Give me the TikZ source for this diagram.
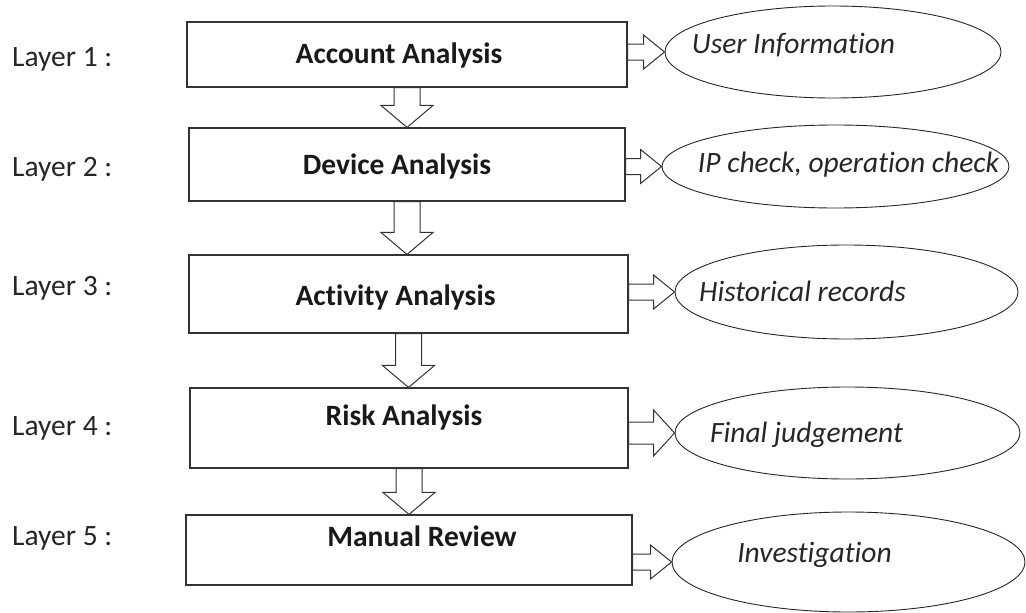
\documentclass[tikz,border=0pt]{standalone}
\usepackage{fontspec}
\setmainfont{Carlito}[Ligatures=NoCommon]
\usetikzlibrary{shapes.geometric, calc}

\begin{document}
\begin{tikzpicture}[
    x=1pt, y=-1pt,
    layer/.style={anchor=base west, inner sep=0pt, text=black!85, font=\fontsize{29.5}{34}\selectfont},
    stage/.style={rectangle, draw=black!80, line width=1.1pt, inner sep=0pt, text depth=8pt, text=black!90, font=\bfseries\fontsize{29.5}{34}\selectfont},
    text left/.style={execute at end node={\hspace*{#1}}},
    text right/.style={execute at begin node={\hspace*{#1}}},
    note/.style={ellipse, draw=black!85, line width=0.9pt, inner sep=0pt},
    notetext/.style={anchor=base, inner sep=0pt, text=black!85, font=\itshape\fontsize{29.5}{34}\selectfont},
    shaft half/.store in=\shafthalf,
    head half/.store in=\headhalf,
    head len/.store in=\headlen,
    shaft half=13pt, head half=26pt, head len=22pt,
    block/.style={draw=black!80, line width=1pt, fill=white,
      to path={
        ($(\tikztostart)!\shafthalf!90:(\tikztotarget)$)
        -- ($(\tikztotarget)!\headlen!(\tikztostart)!\shafthalf!90:(\tikztotarget)$)
        -- ($(\tikztotarget)!\headlen!(\tikztostart)!\headhalf!90:(\tikztotarget)$)
        -- (\tikztotarget)
        -- ($(\tikztotarget)!\headlen!(\tikztostart)!\headhalf!-90:(\tikztotarget)$)
        -- ($(\tikztotarget)!\headlen!(\tikztostart)!\shafthalf!-90:(\tikztotarget)$)
        -- ($(\tikztostart)!\shafthalf!-90:(\tikztotarget)$)
        -- cycle}},
    side/.style={block, shaft half=8pt, head half=17pt, head len=21pt}
]
\useasboundingbox (0,0) rectangle (1026,613);

% Layer labels
\node[layer] (l1) at (12,66) {Layer 1 :};
\node[layer] (l2) at (12,176) {Layer 2 :};
\node[layer] (l3) at (12,295) {Layer 3 :};
\node[layer] (l4) at (12,435) {Layer 4 :};
\node[layer] (l5) at (12,545) {Layer 5 :};

% Analysis stages
\node[stage, minimum width=440pt, minimum height=65pt, text height=26pt, text left=16pt] (b1) at (407,54.5) {Account Analysis};
\node[stage, minimum width=436pt, minimum height=73pt, text height=27pt, text left=20pt] (b2) at (407,164.5) {Device Analysis};
\node[stage, minimum width=439pt, minimum height=78pt, text height=30pt, text left=26pt] (b3) at (408.5,294) {Activity Analysis};
\node[stage, minimum width=438pt, minimum height=80pt, text height=14pt, text depth=20pt, text left=10pt] (b4) at (409,428) {Risk Analysis};
\node[stage, minimum width=446pt, minimum height=70pt, text height=12pt, text depth=20pt, text right=26pt] (b5) at (409,550) {Manual Review};

% Ellipses with notes
\node[note, minimum width=336pt, minimum height=92pt] (e1) at (833,52) {};
\node[note, minimum width=347pt, minimum height=83pt] (e2) at (835.5,166.5) {};
\node[note, minimum width=343pt, minimum height=94pt] (e3) at (846.5,292) {};
\node[note, minimum width=345pt, minimum height=92pt] (e4) at (847.5,433) {};
\node[note, minimum width=353pt, minimum height=100pt] (e5) at (848.5,562) {};

\node[notetext] (t1) at (793.5,53) {User Information};
\node[notetext] (t2) at (848.5,172) {IP check, operation check};
\node[notetext] (t3) at (802.5,301) {Historical records};
\node[notetext] (t4) at (806.5,442) {Final judgement};
\node[notetext] (t5) at (814.5,562) {Investigation};

% Block arrows down
\draw[block] (b1.south) to (b1.south |- b2.north);
\draw[block] (b2.south) to (b2.south |- b3.north);
\draw[block] (b3.south) to (b3.south |- b4.north);
\draw[block] (b4.south) to (b4.south |- b5.north);

% Block arrows to the notes
\draw[side] (b1.east |- e1.west) to (e1.west);
\draw[side] (b2.east |- e2.west) to (e2.west);
\draw[side] (b3.east |- e3.west) to (e3.west);
\draw[side, shaft half=11pt, head half=23pt] (b4.east |- e4.west) to (e4.west);
\draw[side] (b5.east |- e5.west) to (e5.west);
\end{tikzpicture}
\end{document}
